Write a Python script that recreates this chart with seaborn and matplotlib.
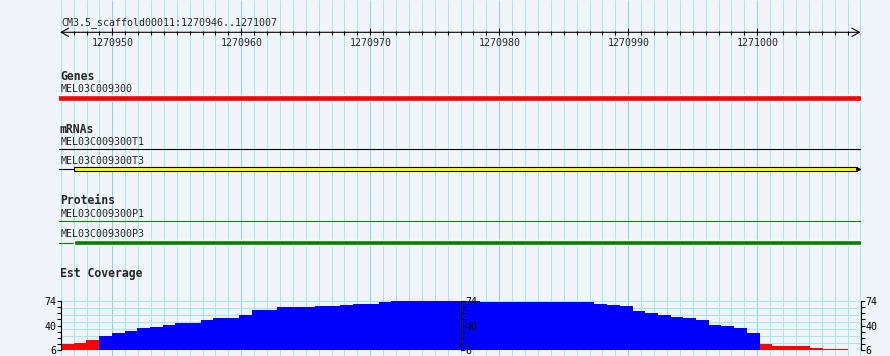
import matplotlib as mpl
mpl.use('Agg')
import matplotlib.pyplot as plt
import numpy as np
import pandas as pd
import seaborn as sns

# region shown
ref_name = "CM3.5_scaffold00011"
view_start = 1270946
view_end = 1271007

# features (spans running off the view are clipped by the axes)
gene_id = "MEL03C009300"
gene_span = (1270900, 1271060)

mrna_ids = ["MEL03C009300T1", "MEL03C009300T3"]
mrna_spans = [(1270900, 1271060), (1270900, 1271060)]
mrna_exons = [None, (1270947, 1271007.7)]

protein_ids = ["MEL03C009300P1", "MEL03C009300P3"]
protein_spans = [(1270900, 1271060), (1270900, 1271060)]
protein_cds = [None, (1270947, 1271060)]

# EST coverage, one value per base
coverage = [15, 16, 20, 25, 30, 33, 37, 38, 41, 44,
            44, 47, 50, 51, 55, 62, 62, 65, 66, 66,
            67, 67, 69, 70, 70, 73, 74, 74, 74, 74,
            74, 74, 74, 73, 73, 73, 73, 73, 73, 73,
            73, 72, 70, 69, 67, 60, 58, 55, 52, 50,
            48, 41, 40, 36, 30, 15, 12, 12, 12, 9,
            7, 7]
cov_min, cov_max = 6, 74
low_cutoff = 22

# layout (pixels)
W, H = 890, 356
bp_px = 12.9          # ruler scale
x0_px = 60.7          # where view_start sits
cov_bp_px = 12.7      # coverage panel scale

bg = '#f1f5fa'
grid_minor = '#a6e8ef'
grid_major = '#8ccff0'
mono = ['DejaVu Sans Mono']


def px2bp(px):
    return view_start + (px - x0_px) / bp_px


sns.set_theme(style='white')
plt.rcParams['font.family'] = mono

fig = plt.figure(figsize=(W / 100, H / 100), dpi=100, facecolor=bg)
left_px, right_px = 59, 861
ax = fig.add_axes([left_px / W, 0, (right_px - left_px) / W, 1])
ax.set_facecolor(bg)
ax.set_xlim(px2bp(left_px), px2bp(right_px))
ax.set_ylim(H, 0)
ax.axis('off')

# vertical grid, one line per base
grid_pos = np.arange(view_start, view_end + 2)
ax.vlines(grid_pos, 0, H,
          colors=[grid_major if p % 10 == 0 else grid_minor for p in grid_pos],
          lw=0.75, zorder=0)

# ruler
lab_x = px2bp(61)
ax.text(lab_x, 25, "%s:%d..%d" % (ref_name, view_start, view_end),
        fontsize=7.2, va='baseline', ha='left')
ax.annotate('', xy=(px2bp(60), 32.3), xytext=(px2bp(860.5), 32.3),
            arrowprops=dict(arrowstyle='<->, head_length=0.45, head_width=0.25',
                            lw=0.8, color='black', shrinkA=0, shrinkB=0))
tick_pos = np.arange(view_start + 1, view_end + 1)
major = tick_pos[tick_pos % 10 == 0]
minor = tick_pos[tick_pos % 10 != 0]
ax.vlines(minor, 30.5, 34.7, color='black', lw=0.8)
ax.vlines(major, 28, 34.7, color='black', lw=0.8)
for p in major:
    ax.text(p, 46, str(p), fontsize=7.2, ha='center', va='baseline')

# Genes
ax.text(lab_x - 0.08, 80.5, "Genes", fontsize=8.3, fontweight='bold', va='baseline')
ax.text(lab_x, 91.7, gene_id, fontsize=7.2, va='baseline')
ax.barh(97.8, gene_span[1] - gene_span[0], left=gene_span[0], height=5.8,
        color='#ff0000', zorder=3)

# mRNAs
ax.text(lab_x - 0.08, 132.7, "mRNAs", fontsize=8.3, fontweight='bold', va='baseline')
mrna_rows = [(145, 149.3), (164.3, 169.3)]
for name, span, exon, (ty, ly) in zip(mrna_ids, mrna_spans, mrna_exons, mrna_rows):
    ax.text(lab_x, ty, name, fontsize=7.2, va='baseline')
    ax.hlines(ly, span[0], span[1], color='black', lw=0.8, zorder=2)
    if exon is not None:
        ax.barh(ly, exon[1] - exon[0], left=exon[0], height=4,
                color='#ffff00', edgecolor='black', linewidth=0.8, zorder=3)
        ax.plot(exon[1] + 0.08, ly, marker='>', ms=2.5, color='black', zorder=3)

# Proteins
ax.text(lab_x - 0.08, 204, "Proteins", fontsize=8.3, fontweight='bold', va='baseline')
prot_rows = [(216.7, 221.3), (237.3, 242.5)]
for name, span, cds, (ty, ly) in zip(protein_ids, protein_spans, protein_cds, prot_rows):
    ax.text(lab_x, ty, name, fontsize=7.2, va='baseline')
    ax.hlines(ly, span[0], span[1], color='#008000', lw=0.8, zorder=2)
    if cds is not None:
        ax.barh(ly, cds[1] - cds[0], left=cds[0], height=5.6,
                color='#008000', zorder=3)

# Est Coverage
ax.text(lab_x - 0.08, 277.3, "Est Coverage", fontsize=8.3, fontweight='bold', va='baseline')

cov_left, cov_right, cov_top, cov_bot = 61, 860.7, 301, 350
cax = fig.add_axes([cov_left / W, (H - cov_bot) / H,
                    (cov_right - cov_left) / W, (cov_bot - cov_top) / H])
cax.set_facecolor('none')

cov_df = pd.DataFrame({
    'pos': np.arange(view_start, view_start + len(coverage)),
    'depth': coverage,
})
cov_df['band'] = np.where(cov_df['depth'] < low_cutoff, 'low', 'ok')

xl = (view_start - 0.5, view_start - 0.5 + (cov_right - cov_left) / cov_bp_px)
cax.hlines(np.linspace(cov_min, cov_max, 8), xl[0], xl[1],
           color=grid_minor, lw=0.75, zorder=0.5)
sns.barplot(data=cov_df, x='pos', y='depth', hue='band',
            palette={'low': '#ff0000', 'ok': '#0000ff'},
            native_scale=True, width=1, dodge=False, errorbar=None,
            saturation=1, legend=False, linewidth=0, antialiased=False,
            zorder=1, ax=cax)
cax.set_xlim(*xl)
cax.set_ylim(cov_min, cov_max)
cax.set_xlabel('')
cax.set_ylabel('')
cax.set_xticks([])
for s in ['top', 'right', 'bottom']:
    cax.spines[s].set_visible(False)
cax.spines['left'].set_color('black')
cax.spines['left'].set_linewidth(0.8)

yt_major = [cov_min, 40, cov_max]
yt_minor = np.linspace(cov_min, cov_max, 9)


def style_axis(a):
    a.set_yticks(yt_major)
    a.set_yticks(yt_minor, minor=True)
    a.tick_params(axis='y', which='both', length=3, width=0.8, color='black',
                  pad=0.5, labelsize=7.2, labelcolor='black')


cax.yaxis.set_ticks_position('left')
cax.tick_params(axis='y', which='both', direction='out', left=True)
style_axis(cax)

for loc in [0.5, 1.0]:
    sec = cax.secondary_yaxis(loc)
    style_axis(sec)
    for s in sec.spines.values():
        s.set_color('black')
        s.set_linewidth(0.8)
    sec.set_zorder(5)

fig.savefig('out.png', dpi=100, facecolor=bg)
